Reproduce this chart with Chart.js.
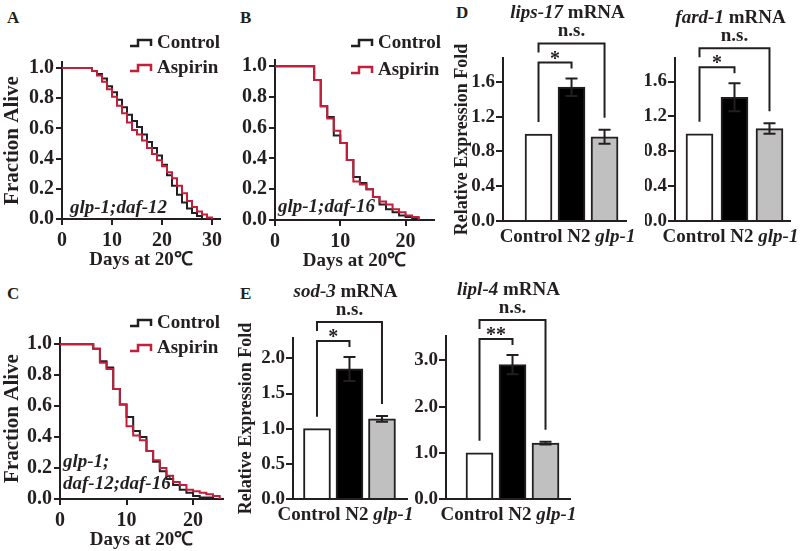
<!DOCTYPE html>
<html>
<head>
<meta charset="UTF-8" />
<script src="https://cdn.jsdelivr.net/npm/chart.js@4.4.1/dist/chart.umd.min.js"></script>
<style>
  body { margin: 0; background: #fff; }
  #fig { position: relative; width: 800px; height: 551px; overflow: hidden; }
  #fig canvas { position: absolute; }
  .tag { position: absolute; font: bold 17px "Liberation Serif", serif; line-height: 1; color: #231f20; }
</style>
</head>
<body>
<div id="fig">
  <div class="tag" style="left:7px;top:9px">A</div>
  <div class="tag" style="left:240px;top:9px">B</div>
  <div class="tag" style="left:7px;top:285px">C</div>
  <div class="tag" style="left:456px;top:4px">D</div>
  <div class="tag" style="left:240px;top:285px">E</div>
</div>
<script>
// ---- survival curves (fraction alive per day) ----
const daysA = [0,1,2,3,4,5,6,7,8,9,10,11,12,13,14,15,16,17,18,19,20,21,22,23,24,25,26,27,28,29,30];
const ctrlA = [1,1,1,1,1,1,0.98,0.96,0.93,0.88,0.84,0.79,0.74,0.69,0.65,0.61,0.56,0.51,0.47,0.42,0.36,0.29,0.22,0.16,0.11,0.07,0.04,0.02,0,null,null];
const aspA  = [1,1,1,1,1,1,0.98,0.95,0.91,0.86,0.81,0.75,0.70,0.64,0.59,0.56,0.52,0.47,0.43,0.39,0.35,0.31,0.27,0.22,0.17,0.12,0.08,0.05,0.03,0.01,0];

const daysB = [0,1,2,3,4,5,6,7,8,9,10,11,12,13,14,15,16,17,18,19,20,21,22];
const ctrlB = [1,1,1,1,1,1,0.91,0.74,0.67,0.55,0.50,0.39,0.28,0.24,0.20,0.15,0.10,0.07,0.05,0.03,0.02,0.01,0];
const aspB  = [1,1,1,1,1,1,0.91,0.74,0.66,0.58,0.50,0.39,0.25,0.23,0.20,0.15,0.12,0.10,0.07,0.05,0.03,0.02,0];

const daysC = [0,1,2,3,4,5,6,7,8,9,10,11,12,13,14,15,16,17,18,19,20,21,22,23,24];
const ctrlC = [1,1,1,1,1,0.97,0.89,0.85,0.71,0.61,0.53,0.44,0.40,0.31,0.24,0.18,0.13,0.09,0.06,0.04,0.02,0.01,0.01,0,null];
const aspC  = [1,1,1,1,1,0.97,0.88,0.84,0.71,0.61,0.47,0.41,0.38,0.31,0.25,0.20,0.15,0.11,0.09,0.06,0.05,0.04,0.03,0.02,0];

// ---- qPCR bars ----
const groups = ['Control', 'N2', 'glp-1'];
const italicGroups = ['glp-1'];
const lips17 = [1.0, 1.54, 0.97], lips17Err = [0, 0.10, 0.08];
const fard1  = [1.0, 1.42, 1.06], fard1Err  = [0, 0.16, 0.06];
const sod3   = [1.0, 1.85, 1.14], sod3Err   = [0, 0.17, 0.04];
const lipl4  = [1.0, 2.91, 1.21], lipl4Err  = [0, 0.21, 0.03];

const INK = '#231f20';
const RED = '#c21f3a';
const SERIF = '"Liberation Serif", "Times New Roman", serif';
const fig = document.getElementById('fig');

// draw a run of text pieces (some italic) centred on cx
function drawParts(ctx, parts, cx, cy, size) {
  let w = 0;
  parts.forEach(p => { ctx.font = (p[1] ? 'italic ' : '') + 'bold ' + size + 'px ' + SERIF; w += ctx.measureText(p[0]).width; });
  let x = cx - w / 2;
  ctx.textAlign = 'left'; ctx.textBaseline = 'middle'; ctx.fillStyle = INK;
  parts.forEach(p => {
    ctx.font = (p[1] ? 'italic ' : '') + 'bold ' + size + 'px ' + SERIF;
    ctx.fillText(p[0], x, cy);
    x += ctx.measureText(p[0]).width;
  });
}

const survivalLabels = {
  id: 'survivalLabels',
  afterDraw(chart, args, o) {
    const ctx = chart.ctx, a = chart.chartArea;
    ctx.save();
    ctx.textBaseline = 'middle'; ctx.textAlign = 'left';
    chart.data.datasets.slice().reverse().forEach((ds, i) => {
      const x = a.left + o.legend.dx, y = a.top + o.legend.dy + i * o.legend.gap;
      ctx.strokeStyle = ds.borderColor; ctx.lineWidth = 2.5;
      ctx.beginPath();
      ctx.moveTo(x, y + 3); ctx.lineTo(x + 8, y + 3); ctx.lineTo(x + 8, y - 3);
      ctx.lineTo(x + 21, y - 3); ctx.lineTo(x + 21, y + 3);
      ctx.stroke();
      ctx.fillStyle = INK; ctx.font = 'bold 19px ' + SERIF;
      ctx.fillText(ds.label, x + 27, y);
    });
    ctx.font = 'italic bold 19px ' + SERIF;
    ctx.fillStyle = INK;
    o.strain.forEach(s => ctx.fillText(s.text, a.left + s.dx, a.bottom - s.dy));
    ctx.restore();
  }
};

const barExtras = {
  id: 'barExtras',
  afterDatasetsDraw(chart, args, o) {
    const ctx = chart.ctx, xs = chart.scales.x, ys = chart.scales.y;
    const vals = chart.data.datasets[0].data.map(d => d.y);
    const errs = o.errs;
    const cx = vals.map((v, i) => xs.getPixelForValue(i));
    const tops = vals.map((v, i) => ys.getPixelForValue(v + errs[i]));
    ctx.save();
    ctx.strokeStyle = INK; ctx.lineWidth = 2;
    // error bars
    vals.forEach((v, i) => {
      if (!errs[i]) return;
      const y1 = ys.getPixelForValue(v + errs[i]), y0 = ys.getPixelForValue(v - errs[i]);
      ctx.beginPath();
      ctx.moveTo(cx[i], y0); ctx.lineTo(cx[i], y1);
      ctx.moveTo(cx[i] - 6, y1); ctx.lineTo(cx[i] + 6, y1);
      ctx.moveTo(cx[i] - 6, y0); ctx.lineTo(cx[i] + 6, y0);
      ctx.stroke();
    });
    // significance brackets
    const inner = Math.min(tops[0], tops[1]) - 16;
    const outer = inner - 19;
    ctx.beginPath();
    ctx.moveTo(cx[0], tops[0] - 12); ctx.lineTo(cx[0], inner); ctx.lineTo(cx[1], inner); ctx.lineTo(cx[1], tops[1] - 10);
    ctx.moveTo(cx[0], outer + 9); ctx.lineTo(cx[0], outer); ctx.lineTo(cx[2], outer); ctx.lineTo(cx[2], tops[2] - 12);
    ctx.stroke();
    ctx.fillStyle = INK; ctx.textAlign = 'center'; ctx.textBaseline = 'alphabetic';
    ctx.font = 'bold 20px ' + SERIF;
    ctx.fillText(o.star, (cx[0] + cx[1]) / 2, inner + 2);
    ctx.font = 'bold 19px ' + SERIF;
    ctx.textBaseline = 'middle';
    ctx.fillText('n.s.', (cx[0] + cx[2]) / 2, outer - 12);
    drawParts(ctx, o.title, cx[1] - 4, outer - 30, 19);
    // category labels
    const parts = [];
    groups.forEach((g, i) => parts.push([(i ? ' ' : '') + g, italicGroups.includes(g)]));
    drawParts(ctx, parts, cx[1] - 4, ys.bottom + 16, 19);
    ctx.restore();
  }
};

function addChart(box, area, yW, xH, config) {
  const c = document.createElement('canvas');
  c.width = box.w; c.height = box.h;
  c.style.left = box.l + 'px'; c.style.top = box.t + 'px';
  fig.appendChild(c);
  config.options.layout = { padding: {
    left: area.x0 - box.l - yW,
    right: box.l + box.w - area.x1,
    top: area.y0 - box.t,
    bottom: box.t + box.h - area.y1 - xH } };
  config.options.scales.y.afterFit = s => { s.width = yW; };
  config.options.scales.x.afterFit = s => { s.height = xH; };
  return new Chart(c, config);
}

const tickFont = { family: SERIF, size: 20, weight: 'bold' };
const barTickFont = { family: SERIF, size: 19, weight: 'bold' };
const axisGrid = { drawOnChartArea: false, color: INK, lineWidth: 2, tickLength: 6 };
const axisBorder = { color: INK, width: 2 };

function survival(days, ctrl, asp, xmax, ymax, yTitle, legend, strain) {
  return {
    type: 'line',
    data: { datasets: [
      { label: 'Aspirin', data: days.map((d, i) => ({ x: d, y: asp[i] })), borderColor: RED, stepped: true, order: 0 },
      { label: 'Control', data: days.map((d, i) => ({ x: d, y: ctrl[i] })), borderColor: INK, stepped: true, order: 1 }
    ]},
    options: {
      responsive: false, animation: false, devicePixelRatio: 1,
      elements: { point: { radius: 0 }, line: { borderWidth: 2 } },
      plugins: { legend: { display: false }, tooltip: { enabled: false },
        survivalLabels: { legend, strain } },
      scales: {
        x: { type: 'linear', min: 0, max: xmax, offset: false,
          grid: axisGrid, border: axisBorder,
          ticks: { stepSize: 10, includeBounds: false, font: tickFont, color: INK, padding: 4, maxRotation: 0 },
          title: { display: true, text: 'Days at 20℃', color: INK, font: { family: SERIF, size: 19, weight: 'bold' }, padding: { top: 0, bottom: 0 } } },
        y: { type: 'linear', min: 0, max: ymax,
          grid: axisGrid, border: axisBorder,
          ticks: { stepSize: 0.2, includeBounds: false, font: tickFont, color: INK, padding: 2, callback: v => v.toFixed(1) },
          title: { display: !!yTitle, text: yTitle || '', color: INK, font: { family: SERIF, size: 21, weight: 'bold' }, padding: { top: 0, bottom: 0 } } }
      }
    },
    plugins: [survivalLabels]
  };
}

function bars(vals, errs, title, star, xr, ymax, ystep, yTitle) {
  return {
    type: 'bar',
    data: { datasets: [{
      data: vals.map((v, i) => ({ x: i, y: v })),
      backgroundColor: ['#ffffff', '#000000', '#c0c0c0'],
      borderColor: INK, borderWidth: 2, borderSkipped: 'bottom', barThickness: 27
    }]},
    options: {
      responsive: false, animation: false, devicePixelRatio: 1,
      plugins: { legend: { display: false }, tooltip: { enabled: false },
        barExtras: { errs, title, star } },
      scales: {
        x: { type: 'linear', min: xr[0], max: xr[1], offset: false,
          grid: { display: false }, ticks: { display: false }, border: axisBorder },
        y: { min: 0, max: ymax, beginAtZero: true,
          grid: { drawOnChartArea: false, color: INK, lineWidth: 2, tickLength: 7 }, border: axisBorder,
          ticks: { stepSize: ystep, includeBounds: false, font: barTickFont, color: INK, padding: 1, callback: v => v.toFixed(1) },
          title: { display: !!yTitle, text: yTitle || '', color: INK, font: { family: SERIF, size: 18, weight: 'bold' }, padding: { top: 0, bottom: 0 } } }
      }
    },
    plugins: [barExtras]
  };
}

addChart({ l: 0, t: 30, w: 240, h: 241 }, { x0: 62, x1: 220, y0: 62, y1: 219 }, 62, 52,
  survival(daysA, ctrlA, aspA, 31.6, 1.04, 'Fraction Alive',
    { dx: 68, dy: -19, gap: 25 }, [{ text: 'glp-1;daf-12', dx: 8, dy: 11 }]));

addChart({ l: 235, t: 30, w: 210, h: 242 }, { x0: 275, x1: 434, y0: 60, y1: 220 }, 40, 52,
  survival(daysB, ctrlB, aspB, 24.35, 1.04, null,
    { dx: 76, dy: -17, gap: 27 }, [{ text: 'glp-1;daf-16', dx: 3, dy: 13 }]));

addChart({ l: 0, t: 300, w: 240, h: 251 }, { x0: 60, x1: 223, y0: 338, y1: 499 }, 60, 52,
  survival(daysC, ctrlC, aspC, 24.5, 1.04, 'Fraction Alive',
    { dx: 70, dy: -15, gap: 25 }, [{ text: 'glp-1;', dx: 3, dy: 37 }, { text: 'daf-12;daf-16', dx: 3, dy: 15 }]));

addChart({ l: 452, t: 0, w: 195, h: 255 }, { x0: 503, x1: 626, y0: 58, y1: 221 }, 51, 34,
  bars(lips17, lips17Err, [['lips-17', true], [' mRNA', false]], '*', [-1.076, 2.65], 1.876, 0.4, 'Relative Expression Fold'));

addChart({ l: 645, t: 0, w: 155, h: 255 }, { x0: 675, x1: 790, y0: 58, y1: 221 }, 30, 34,
  bars(fard1, fard1Err, [['fard-1', true], [' mRNA', false]], '*', [-0.7, 2.586], 1.87, 0.4, null));

addChart({ l: 236, t: 280, w: 184, h: 271 }, { x0: 293, x1: 407, y0: 338, y1: 499 }, 57, 52,
  bars(sod3, sod3Err, [['sod-3', true], [' mRNA', false]], '*', [-0.738, 2.77], 2.29, 0.5, 'Relative Expression Fold'));

addChart({ l: 410, t: 280, w: 180, h: 271 }, { x0: 446, x1: 570, y0: 336, y1: 499 }, 36, 52,
  bars(lipl4, lipl4Err, [['lipl-4', true], [' mRNA', false]], '**', [-1.015, 2.742], 3.53, 1.0, null));
</script>
</body>
</html>
